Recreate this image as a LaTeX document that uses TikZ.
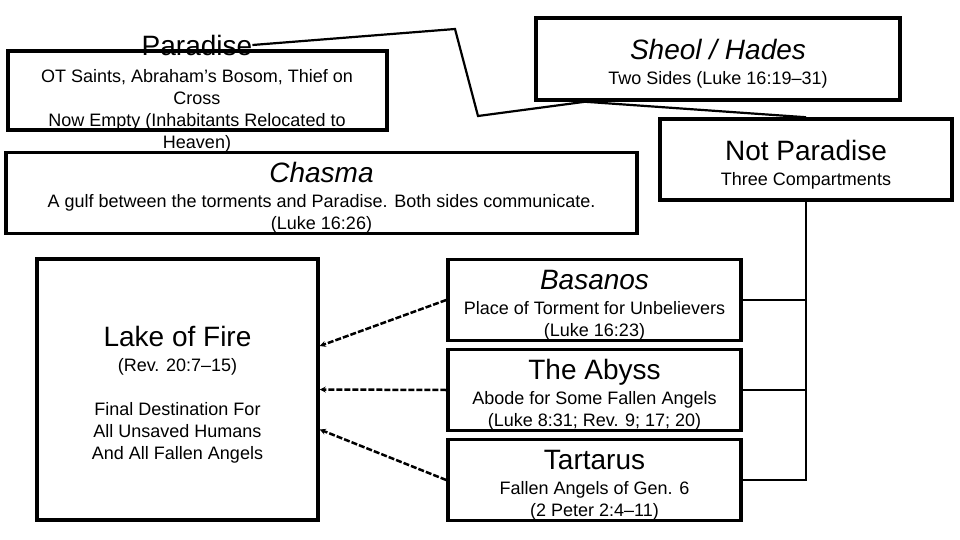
\documentclass[tikz,border=0pt]{standalone}
\usepackage{fontspec}
\setmainfont{Liberation Sans}
\usetikzlibrary{arrows.meta,calc}
\newcommand{\TitleFont}{\fontsize{28}{30}\selectfont}
\newcommand{\BoxTitle}{\TitleFont\rule{0pt}{30pt}}

\begin{document}
\begin{tikzpicture}[x=1pt,y=-1pt,
  every node/.style={font=\fontsize{18}{22}\selectfont},
  box/.style={draw,line width=3.5pt,rectangle,inner sep=0pt,align=center},
  link/.style={line width=2.2pt},
  toLake/.style={line width=2.5pt,dash pattern=on 6pt off 2pt,-{Stealth[length=6pt,width=6pt]}}]
\useasboundingbox (0,0) rectangle (960,540);

\node[box,minimum width=379,minimum height=79] (Par) at (197.5,90.5) {};
\node[inner sep=0pt] (ParT) at (197,45) {\TitleFont Paradise};
\node[align=center] (ParB) at (197,110.5) {OT Saints, Abraham’s Bosom, Thief on\\ Cross\\ Now Empty (Inhabitants Relocated to\\ Heaven)};

\node[box,minimum width=364,minimum height=82] (Sheol) at (718,59)
  {{\BoxTitle\itshape Sheol / Hades}\\[3pt] Two Sides (Luke 16:19--31)};
\node[box,minimum width=292,minimum height=81] (NP) at (806,159.5)
  {{\BoxTitle Not Paradise}\\[3pt] Three Compartments};
\node[box,minimum width=631,minimum height=80] (Chas) at (321.5,193)
  {{\BoxTitle\itshape Chasma}\\[3pt] A gulf between the torments and Paradise. Both sides communicate.\\ (Luke 16:26)};

\node[box,minimum width=281,minimum height=261] (Lake) at (177.5,389.5)
  {{\BoxTitle Lake of Fire}\\[3pt] (Rev. 20:7--15)\\[22pt] Final Destination For\\ All Unsaved Humans\\ And All Fallen Angels};

\node[box,minimum width=293,minimum height=80] (Bas) at (594.5,300)
  {{\BoxTitle\itshape Basanos}\\[3pt] Place of Torment for Unbelievers\\ (Luke 16:23)};
\node[box,minimum width=293,minimum height=80] (Aby) at (594.5,390)
  {{\BoxTitle The Abyss}\\[3pt] Abode for Some Fallen Angels\\ (Luke 8:31; Rev. 9; 17; 20)};
\node[box,minimum width=293,minimum height=80] (Tar) at (594.5,480)
  {{\BoxTitle Tartarus}\\[3pt] Fallen Angels of Gen. 6\\ (2 Peter 2:4--11)};

\coordinate (P1) at (455,29);
\coordinate (P2) at (478,116);
\coordinate (S1) at ([xshift=-133pt]Sheol.south);

\draw[link] (ParT.east) -- (P1) -- (P2) -- (S1);
\draw[link] (S1) -- (NP.north);

\draw[link] (NP.south) |- (Tar.east);
\draw[link] (Bas.east) -- (Bas.east -| NP.south);
\draw[link] (Aby.east) -- (Aby.east -| NP.south);

\draw[toLake] (Bas.west) -- ([yshift=43.5pt]Lake.east);
\draw[toLake] (Aby.west) -- (Lake.east);
\draw[toLake] (Tar.west) -- ([yshift=-40pt]Lake.east);

\end{tikzpicture}
\end{document}
